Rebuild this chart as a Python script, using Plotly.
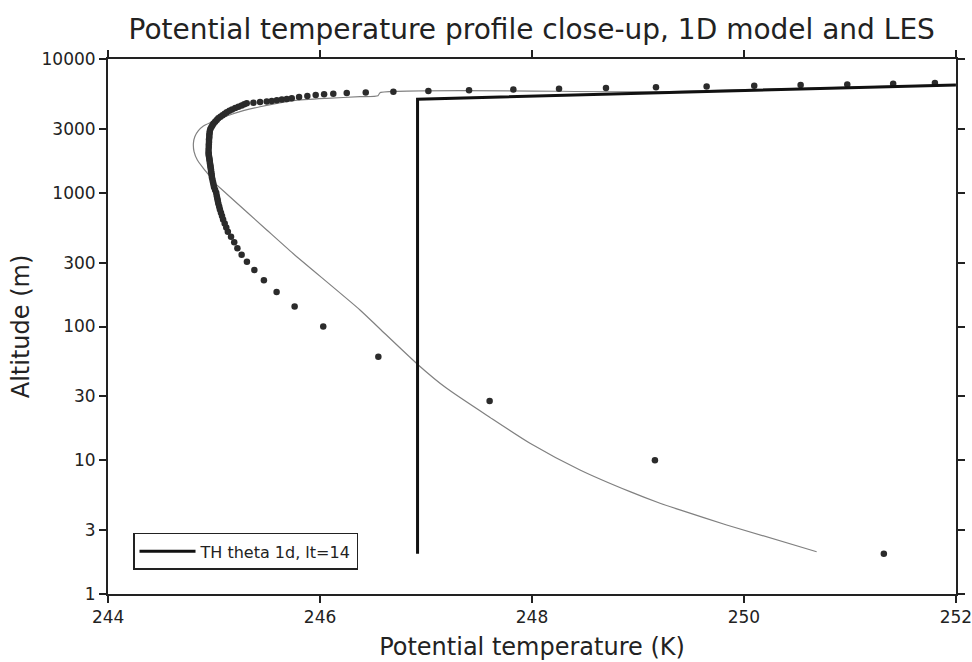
import plotly.graph_objects as go

# 1D model profile (thick black line)
theta_1d = [246.92, 246.92, 252.0]
z_1d = [2, 5000, 6400]

# thin grey profile
theta_grey = [250.686, 249.837, 249.396, 249.208, 248.925, 248.453, 247.981, 247.604,
              247.195, 246.927, 246.566, 246.377, 245.748, 245.497, 245.12, 244.993,
              244.962, 244.899, 244.842, 244.811, 244.805, 244.818, 244.852, 244.899,
              244.962, 245.041, 245.12, 245.276, 245.434, 245.748, 246.063, 246.377,
              246.547, 246.566, 249.208, 252.0]
z_grey = [2.07, 3.28, 4.25, 4.77, 5.82, 8.46, 13.4, 20.9,
          34.5, 51.6, 95.8, 133, 350, 527, 979, 1209,
          1319, 1523, 1757, 2028, 2343, 2625, 2911, 3156,
          3341, 3540, 3748, 4108, 4397, 4877, 5083, 5226,
          5317, 5598, 5693, 6443]

# LES dots
theta_les = [251.32, 249.16, 247.60, 246.55, 246.03, 245.76, 245.59, 245.47, 245.38,
             245.31, 245.26, 245.22, 245.19, 245.16,
             245.13, 245.115, 245.10, 245.085, 245.075, 245.065, 245.055, 245.048,
             245.04, 245.035, 245.03, 245.025, 245.02,
             245.01, 245.0, 244.995, 244.99, 244.985, 244.98, 244.978, 244.975, 244.972,
             244.97, 244.967, 244.965, 244.962, 244.96, 244.958, 244.955, 244.953, 244.95,
             244.95,
             244.948, 244.948, 244.95, 244.95, 244.952, 244.952, 244.955, 244.955,
             244.958, 244.96, 244.965, 244.975, 244.985, 244.995, 245.01, 245.025,
             245.04, 245.06, 245.08, 245.10, 245.12, 245.145, 245.17, 245.20, 245.23,
             245.26, 245.285,
             245.308, 245.371, 245.434, 245.497, 245.544, 245.592, 245.639, 245.686,
             245.733, 245.802, 245.880, 245.959, 246.038, 246.125, 246.252, 246.431,
             246.692, 247.022, 247.406, 247.824, 248.255, 248.698, 249.170, 249.648,
             250.097, 250.535, 250.975, 251.408, 251.802]
z_les = [2, 10, 27.7, 59.5, 100, 141, 181, 222, 264,
         305, 344, 384, 426, 469,
         510, 550, 590, 630, 670, 710, 750, 790,
         830, 870, 910, 950, 1000,
         1050, 1100, 1150, 1200, 1250, 1300, 1350, 1400, 1450,
         1500, 1550, 1600, 1650, 1700, 1750, 1800, 1850, 1900,
         1950,
         2000, 2100, 2200, 2300, 2400, 2500, 2600, 2700,
         2800, 2900, 3000, 3100, 3200, 3300, 3400, 3500,
         3600, 3700, 3800, 3900, 4000, 4100, 4200, 4300, 4400,
         4500, 4580,
         4666, 4714, 4765, 4810, 4860, 4920, 4980, 5030,
         5085, 5190, 5300, 5390, 5450, 5510, 5570, 5630,
         5695, 5775, 5850, 5925, 6000, 6075, 6150, 6225,
         6300, 6380, 6460, 6540, 6616]

x_ticks = [244, 246, 248, 250, 252]
y_ticks = [1, 3, 10, 30, 100, 300, 1000, 3000, 10000]

FONT = "DejaVu Sans"
INK = "#222222"

fig = go.Figure()
fig.add_trace(go.Scatter(x=theta_grey, y=z_grey, mode="lines",
                         line=dict(color="#808080", width=1.2, shape="spline", smoothing=0.6),
                         showlegend=False, hoverinfo="skip"))
fig.add_trace(go.Scatter(x=theta_les, y=z_les, mode="markers",
                         marker=dict(color="#2b2b2b", size=6.5, line=dict(width=0)),
                         showlegend=False, hoverinfo="skip"))
fig.add_trace(go.Scatter(x=theta_1d, y=z_1d, mode="lines",
                         line=dict(color="#111111", width=3),
                         name="TH theta 1d, lt=14"))

axis_common = dict(showline=True, linecolor=INK, linewidth=2, mirror="ticks",
                   ticks="outside", ticklen=7, tickwidth=2, tickcolor=INK,
                   showgrid=False, zeroline=False, ticklabeloverflow="allow",
                   tickfont=dict(family=FONT, size=17, color=INK))

fig.update_xaxes(range=[243.999, 252.001], tickvals=x_ticks,
                 ticktext=[str(v) for v in x_ticks],
                 title=dict(text="Potential temperature (K)",
                            font=dict(family=FONT, size=24, color=INK), standoff=12),
                 **axis_common)
fig.update_yaxes(type="log", range=[-0.0001, 4.0001], tickvals=y_ticks,
                 ticktext=[str(v) for v in y_ticks],
                 title=dict(text="Altitude (m)",
                            font=dict(family=FONT, size=24, color=INK), standoff=5),
                 **axis_common)

fig.update_layout(
    width=972, height=662,
    margin=dict(l=108, r=16, t=59, b=68, autoexpand=False),
    paper_bgcolor="white", plot_bgcolor="white",
    title=dict(text="Potential temperature profile close-up, 1D model and LES",
               font=dict(family=FONT, size=28, color=INK),
               x=0.547, xanchor="center", y=1 - 29 / 662, yanchor="middle"),
    legend=dict(x=0.0295, y=0.045, xanchor="left", yanchor="bottom",
                bgcolor="white", bordercolor=INK, borderwidth=1.5,
                itemwidth=56,
                font=dict(family=FONT, size=16, color=INK)),
)
fig.update_xaxes(automargin=False)
fig.update_yaxes(automargin=False)

fig.write_html("out.html")
